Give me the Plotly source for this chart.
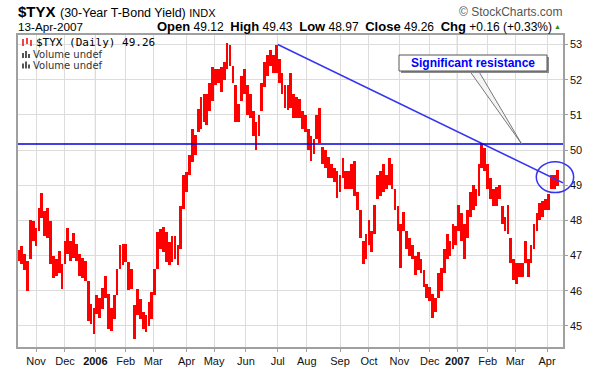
import numpy as np
import plotly.graph_objects as go

# ---------------- data ----------------
# trading-day number of each plotted bar (0 = 14-Oct-2005), one bar per two sessions
day_number = list(range(0, 374, 2))

high_values = [
    47.15, 47.27, 47.03, 46.84, 48.00, 47.98, 47.79, 48.36, 48.78, 48.26,
    48.36, 47.98, 46.98, 46.89, 47.13, 46.75, 47.41, 47.79, 47.41, 47.65,
    47.32, 47.03, 46.94, 46.84, 46.27, 45.61, 45.52, 45.89, 45.80, 46.08,
    46.41, 45.90, 45.50, 45.87, 46.62, 47.29, 47.34, 47.34, 46.82, 46.62,
    45.58, 46.06, 45.77, 45.39, 45.30, 45.68, 45.96, 46.62, 47.67, 47.76,
    47.81, 47.67, 47.38, 47.57, 47.57, 47.29, 48.40, 49.28, 49.37, 49.85,
    50.60, 50.42, 51.17, 51.50, 51.60, 51.60, 51.90, 52.36, 52.30, 52.30,
    52.36, 52.50, 53.05, 53.00, 52.40, 51.84, 51.30, 52.10, 52.30, 51.84,
    51.60, 51.10, 50.80, 51.00, 51.90, 52.50, 52.70, 52.85, 52.70, 52.98,
    52.60, 52.20, 51.85, 51.85, 52.19, 51.60, 51.50, 51.45, 51.10, 51.00,
    50.60, 50.40, 50.30, 51.00, 51.20, 50.10, 50.00, 49.80, 49.60, 49.50,
    49.40, 49.30, 49.78, 49.40, 49.40, 49.60, 49.70, 48.80, 48.30, 47.40,
    47.60, 48.00, 47.70, 48.45, 49.30, 49.40, 49.60, 49.30, 49.78, 49.60,
    48.90, 48.40, 47.90, 48.25, 47.70, 47.50, 47.30, 47.00, 47.10, 46.90,
    46.60, 46.20, 46.10, 45.90, 45.80, 46.50, 46.65, 47.20, 47.60, 47.40,
    47.90, 47.85, 48.45, 48.20, 47.90, 48.30, 48.80, 49.00, 48.90, 49.60,
    50.20, 50.05, 49.60, 49.20, 48.90, 48.95, 49.00, 48.40, 48.10, 48.45,
    47.50, 46.90, 46.80, 46.80, 46.80, 47.40, 46.90, 47.30, 47.90, 48.20,
    48.50, 48.55, 48.60, 48.75, 49.30, 49.30, 49.43,
]

low_values = [
    46.85, 46.75, 46.60, 45.99, 46.90, 47.41, 47.27, 47.69, 48.07, 47.55,
    47.50, 46.75, 46.37, 46.41, 46.51, 46.04, 46.75, 47.03, 46.84, 46.94,
    46.84, 46.41, 46.37, 46.27, 45.14, 45.04, 44.76, 45.33, 45.23, 45.47,
    45.80, 44.90, 44.85, 45.20, 45.87, 46.62, 46.72, 46.82, 46.01, 46.06,
    44.63, 45.30, 45.20, 44.92, 44.82, 45.01, 45.20, 45.87, 46.62, 47.19,
    47.10, 46.82, 46.72, 46.82, 46.91, 46.72, 47.20, 48.33, 48.80, 49.28,
    49.66, 49.85, 50.50, 50.60, 50.80, 50.70, 51.10, 51.40, 51.84, 51.90,
    51.65, 52.00, 52.30, 52.40, 51.90, 50.80, 50.80, 51.40, 51.60, 51.00,
    50.90, 50.40, 49.99, 50.40, 51.10, 51.80, 52.10, 52.40, 52.20, 52.20,
    51.90, 51.60, 51.20, 51.15, 51.20, 50.90, 50.90, 50.90, 50.60, 50.50,
    50.00, 49.68, 49.90, 50.30, 50.20, 49.60, 49.50, 49.20, 49.20, 49.10,
    48.65, 48.80, 49.20, 48.90, 48.90, 48.90, 48.70, 48.30, 47.50, 46.75,
    46.90, 47.30, 47.10, 47.60, 48.60, 48.70, 48.80, 48.90, 49.00, 48.90,
    48.30, 47.70, 46.65, 47.70, 47.20, 47.00, 46.90, 46.45, 46.60, 46.50,
    46.10, 45.80, 45.70, 45.23, 45.40, 45.80, 46.00, 46.50, 46.90, 47.00,
    47.20, 47.30, 47.70, 47.40, 46.90, 47.50, 48.10, 48.30, 48.40, 48.70,
    49.50, 49.40, 48.90, 48.60, 48.40, 48.40, 48.60, 47.90, 47.70, 47.60,
    46.80, 46.30, 46.20, 46.40, 46.40, 46.80, 46.40, 46.80, 47.20, 47.70,
    48.00, 48.10, 48.30, 48.30, 48.90, 48.90, 48.97,
]

month_day = [12, 32, 53, 74, 93, 116, 135, 157, 179, 199, 222, 242,
             263, 284, 303, 324, 343, 365]
month_label = ["Nov", "Dec", "<b>2006</b>", "Feb", "Mar", "Apr", "May", "Jun",
               "Jul", "Aug", "Sep", "Oct", "Nov", "Dec", "<b>2007</b>",
               "Feb", "Mar", "Apr"]
year_day = [53, 303]
yield_ticks = [45, 46, 47, 48, 49, 50, 51, 52, 53]

resistance_level = 50.17
trend_day = [179, 376]
trend_value = [53.0, 49.07]
circle_day = [357.6, 383.4]
circle_value = [48.79, 49.67]

x_range = [-0.45, 376.05]
y_range = [44.40, 53.27]

# ---------------- layout geometry ----------------
W, H = 600, 367
ML, MR, MT, MB = 18, 37, 35, 20
PW, PH = W - ML - MR, H - MT - MB
FONT = "Liberation Sans, Arial, sans-serif"


def px_x(px):
    return (px - ML) / PW


def px_y(py):
    return (H - MB - py) / PH


def day_paper(d):
    return (d - x_range[0]) / (x_range[1] - x_range[0])


def val_paper(v):
    return (v - y_range[0]) / (y_range[1] - y_range[0])


highs = np.array(high_values)
lows = np.array(low_values)

fig = go.Figure()
fig.add_trace(go.Bar(
    x=day_number, y=highs - lows, base=lows, width=1.9,
    marker=dict(color="#ff0000", line=dict(width=0)),
    showlegend=False, hoverinfo="skip"))
fig.add_trace(go.Scatter(
    x=trend_day, y=trend_value, mode="lines",
    line=dict(color="#3535f0", width=1.5), showlegend=False, hoverinfo="skip"))

shapes = []
for d in year_day:
    shapes.append(dict(type="line", xref="x", yref="paper", x0=d, x1=d, y0=0, y1=1,
                       line=dict(color="#b8b8b8", width=1), layer="below"))
shapes.append(dict(type="line", xref="paper", yref="y", x0=0, x1=1,
                   y0=resistance_level, y1=resistance_level,
                   line=dict(color="#0000dd", width=1.5)))
# circle around latest bars
shapes.append(dict(type="circle", xref="paper", yref="paper",
                   x0=day_paper(circle_day[0]), x1=day_paper(circle_day[1]),
                   y0=val_paper(circle_value[0]), y1=val_paper(circle_value[1]),
                   line=dict(color="#3535f0", width=1.5)))
# callout wedge
shapes.append(dict(type="path", xref="paper", yref="paper",
                   path=f"M {px_x(469)},{px_y(70)} L {px_x(521.7)},{val_paper(resistance_level)} L {px_x(478)},{px_y(70)} Z",
                   fillcolor="#f4f4f4", line=dict(color="#777777", width=1)))
# callout box with shadow
shapes.append(dict(type="rect", xref="paper", yref="paper",
                   x0=px_x(401), x1=px_x(549), y0=px_y(73), y1=px_y(57),
                   fillcolor="#8a8a8a", line=dict(width=0)))
shapes.append(dict(type="rect", xref="paper", yref="paper",
                   x0=px_x(399), x1=px_x(547), y0=px_y(71), y1=px_y(55),
                   fillcolor="white", line=dict(color="#555555", width=1)))
# legend icons
for x0, ya, yb in [(23, 39, 46), (27, 38, 44), (31, 40, 46)]:
    shapes.append(dict(type="line", xref="paper", yref="paper",
                       x0=px_x(x0), x1=px_x(x0), y0=px_y(yb), y1=px_y(ya),
                       line=dict(color="#ff0000", width=1.5)))
for base in (58, 68.5):
    for x0, top in [(22, base - 5), (25, base - 7), (28, base - 4)]:
        shapes.append(dict(type="rect", xref="paper", yref="paper",
                           x0=px_x(x0), x1=px_x(x0 + 2), y0=px_y(base), y1=px_y(top),
                           fillcolor="#555555", line=dict(width=0)))

ann = []


def text(px, py, s, size, anchor="left", color="#000000", family=FONT):
    ann.append(dict(xref="paper", yref="paper", x=px_x(px), y=px_y(py), text=s,
                    xanchor=anchor, yanchor="middle", showarrow=False,
                    font=dict(family=family, size=size, color=color), borderpad=0))


B = "<span style='font-size:13px'><b>{}</b></span>"
ohlc_text = "  ".join([
    B.format("Open") + " 49.12",
    B.format("High") + " 49.43",
    B.format("Low") + " 48.97",
    B.format("Close") + " 49.26",
    B.format("Chg") + " +0.16 (+0.33%)",
])

text(17, 11, "<b>$TYX</b>", 15)
text(58.5, 12.5, "(30-Year T-Bond Yield) <span style='font-size:11px'>INDX</span>", 12.5)
text(17, 26.5, "13-Apr-2007", 11.7)
text(553, 26.5, ohlc_text, 12, anchor="right")
text(557.5, 26, "▲", 7, anchor="center", color="#2b8a2b")
text(564, 11.5, "© StockCharts.com", 12, anchor="right", color="#555555")
text(35, 42.5, "$TYX (Daily) 49.26", 11, family="DejaVu Sans Mono, monospace")
text(32, 54.5, "Volume undef", 10, color="#333333", family="DejaVu Sans, sans-serif")
text(32, 65, "Volume undef", 10, color="#333333", family="DejaVu Sans, sans-serif")
text(473, 63, "<b>Significant resistance</b>", 12, anchor="center", color="#0000ff")

fig.update_layout(
    width=W, height=H, margin=dict(l=ML, r=MR, t=MT, b=MB, pad=0),
    paper_bgcolor="white", plot_bgcolor="white", showlegend=False,
    bargap=0, shapes=shapes, annotations=ann,
    font=dict(family=FONT, size=11, color="#000000"),
    xaxis=dict(range=x_range, tickvals=month_day, ticktext=month_label,
               showgrid=True, gridcolor="#dcdcdc", gridwidth=1, zeroline=False,
               showline=True, mirror=True, linecolor="#a0a0a0", linewidth=1.5,
               ticks="outside", ticklen=3, tickcolor="#a0a0a0",
               tickfont=dict(family=FONT, size=11, color="#111111"),
               automargin=False, fixedrange=True),
    yaxis=dict(range=y_range, tickvals=yield_ticks, side="right",
               showgrid=True, gridcolor="#dcdcdc", gridwidth=1, zeroline=False,
               showline=True, mirror=True, linecolor="#a0a0a0", linewidth=1.5,
               ticks="outside", ticklen=3, tickcolor="#a0a0a0",
               tickfont=dict(family=FONT, size=11, color="#111111"),
               automargin=False, fixedrange=True),
)

fig.write_html("out.html", config={"displayModeBar": False},
               post_script="document.body.style.margin='0px';")
